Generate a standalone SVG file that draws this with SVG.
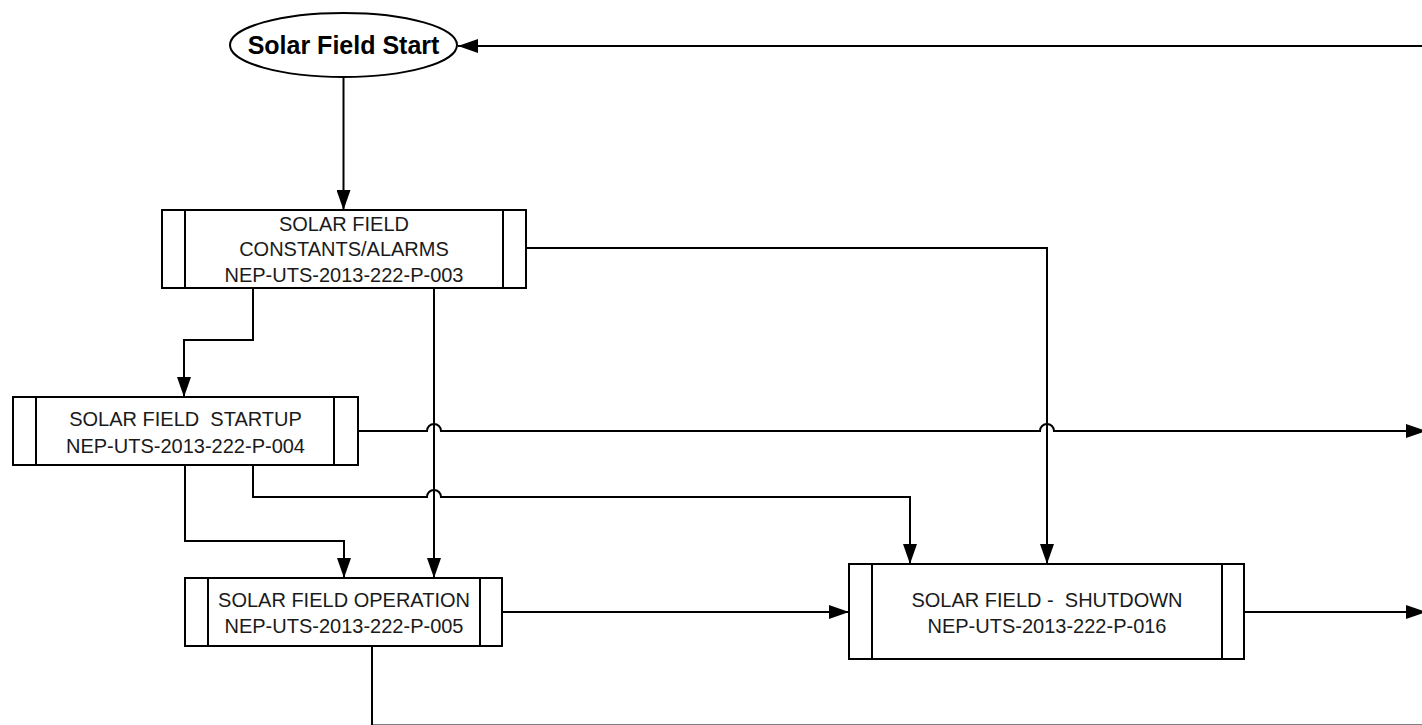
<svg xmlns="http://www.w3.org/2000/svg" width="1422" height="725" viewBox="0 0 1422 725">
<style>
.bx{fill:#fff;stroke:#000;stroke-width:2}
.ln{fill:none;stroke:#000;stroke-width:2}
.t{font-family:"Liberation Sans",Arial,sans-serif;font-size:20px;fill:#1a1a1a;text-anchor:middle;white-space:pre}
.title{font-family:"Liberation Sans",Arial,sans-serif;font-size:25px;font-weight:bold;fill:#000;text-anchor:middle}
</style>
<defs>
<marker id="arr" markerUnits="userSpaceOnUse" markerWidth="20" markerHeight="14" refX="20" refY="7" orient="auto">
<path d="M0,0 L20,7 L0,14 z" fill="#000"/>
</marker>
</defs>
<rect width="1422" height="725" fill="#fff"/>
<g id="connectors">
<path class="ln" d="M1422,46 H458" marker-end="url(#arr)"/>
<path class="ln" d="M343.5,77 V210" marker-end="url(#arr)"/>
<path class="ln" d="M526,248 H1047 V564" marker-end="url(#arr)"/>
<path class="ln" d="M253,288 V340 H184 V397" marker-end="url(#arr)"/>
<path class="ln" d="M434,288 V578" marker-end="url(#arr)"/>
<path class="ln" d="M358,431 H427 A7,7 0 0 1 441,431 H1040 A7,7 0 0 1 1054,431 H1426" marker-end="url(#arr)"/>
<path class="ln" d="M185,465 V541 H344 V578" marker-end="url(#arr)"/>
<path class="ln" d="M253,465 V497 H427 A7,7 0 0 1 441,497 H910 V564" marker-end="url(#arr)"/>
<path class="ln" d="M502,612 H849" marker-end="url(#arr)"/>
<path class="ln" d="M1244,612 H1426" marker-end="url(#arr)"/>
<path class="ln" d="M372,646 V725.5 H1422"/>
</g>
<g id="start">
<ellipse cx="343.5" cy="45" rx="113.5" ry="32" class="bx"/>
<text x="343.5" y="54" class="title">Solar Field Start</text>
</g>
<g id="constants">
<rect x="162" y="210" width="364" height="78" class="bx"/>
<path class="ln" d="M185,210 V288 M503,210 V288"/>
<text x="344" y="231" class="t">SOLAR FIELD</text>
<text x="344" y="256" class="t">CONSTANTS/ALARMS</text>
<text x="344" y="282" class="t">NEP-UTS-2013-222-P-003</text>
</g>
<g id="startup">
<rect x="13" y="397" width="345" height="68" class="bx"/>
<path class="ln" d="M36,397 V465 M334,397 V465"/>
<text x="185.5" y="426" class="t">SOLAR FIELD  STARTUP</text>
<text x="185.5" y="453" class="t">NEP-UTS-2013-222-P-004</text>
</g>
<g id="operation">
<rect x="185" y="578" width="317" height="68" class="bx"/>
<path class="ln" d="M208,578 V646 M480,578 V646"/>
<text x="344" y="607" class="t">SOLAR FIELD OPERATION</text>
<text x="344" y="633" class="t">NEP-UTS-2013-222-P-005</text>
</g>
<g id="shutdown">
<rect x="849" y="564" width="395" height="95" class="bx"/>
<path class="ln" d="M872,564 V659 M1222,564 V659"/>
<text x="1047" y="607" class="t">SOLAR FIELD -  SHUTDOWN</text>
<text x="1047" y="633" class="t">NEP-UTS-2013-222-P-016</text>
</g>
</svg>
